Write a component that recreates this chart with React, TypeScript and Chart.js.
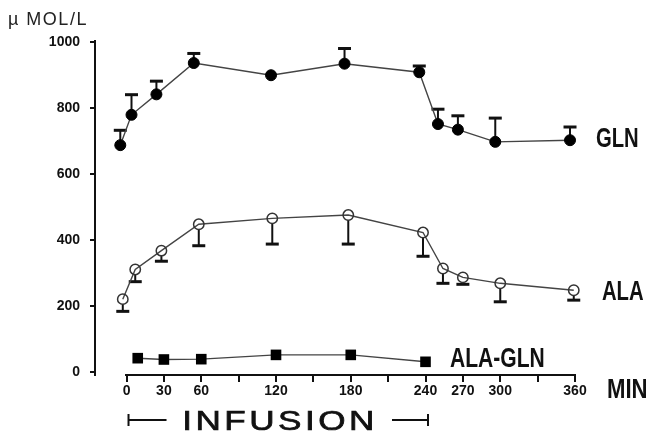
import React, { useEffect, useRef } from "react";
import { Chart, registerables } from "chart.js";
Chart.register(...registerables);

// ---- data (minutes, µmol/L) ----
const GLN_MIN = [-5, 4, 24, 54, 116, 175, 235, 250, 266, 296, 356];
const GLN = [688, 780, 842, 937, 900, 935, 909, 752, 735, 698, 703];
const GLN_ERR_UP = [45, 61, 40, 29, 0, 46, 19, 45, 42, 72, 40];

const ALA_MIN = [-3, 7, 28, 58, 117, 178, 238, 254, 270, 300, 359];
const ALA = [221, 311, 368, 448, 466, 476, 423, 314, 287, 269, 248];
const ALA_ERR_DOWN = [37, 37, 32, 65, 78, 88, 72, 45, 21, 56, 30];

const ALAGLN_MIN = [9, 30, 60, 120, 180, 240];
const ALAGLN = [42, 38, 39, 52, 52, 31];

const X_TICKS = [0, 30, 60, 90, 120, 150, 180, 210, 240, 270, 300, 330, 360];
const X_LABELS = [0, 30, 60, 120, 180, 240, 270, 300, 360];
const Y_TICKS = [0, 200, 400, 600, 800, 1000];
const INFUSION = [0, 240];

const FONT = "'Liberation Sans', Arial, Helvetica, sans-serif";
const INK = "#111";

function drawScaled(ctx: CanvasRenderingContext2D, text: string, x: number, y: number, font: string, sx: number, color = INK) {
  ctx.save();
  ctx.font = font;
  ctx.fillStyle = color;
  ctx.textAlign = "left";
  ctx.textBaseline = "alphabetic";
  ctx.translate(x, y);
  ctx.scale(sx, 1);
  ctx.fillText(text, 0, 0);
  ctx.restore();
}

const errorBarPlugin = {
  id: "errorBars",
  beforeDatasetsDraw(chart: any) {
    const ctx: CanvasRenderingContext2D = chart.ctx;
    const xs = chart.scales.x;
    const ys = chart.scales.y;
    ctx.save();
    ctx.strokeStyle = INK;
    const draw = (mins: number[], vals: number[], errs: number[], dir: number, r: number) => {
      mins.forEach((m, i) => {
        const e = errs[i];
        if (!e) return;
        const x = xs.getPixelForValue(m);
        const y0 = ys.getPixelForValue(vals[i]);
        const y1 = ys.getPixelForValue(vals[i] + dir * e);
        ctx.lineWidth = 2;
        ctx.beginPath();
        ctx.moveTo(x, y0 - dir * r);
        ctx.lineTo(x, y1);
        ctx.stroke();
        ctx.lineWidth = 3;
        ctx.beginPath();
        ctx.moveTo(x - 6.5, y1);
        ctx.lineTo(x + 6.5, y1);
        ctx.stroke();
      });
    };
    draw(GLN_MIN, GLN, GLN_ERR_UP, 1, 5);
    draw(ALA_MIN, ALA, ALA_ERR_DOWN, -1, 5);
    ctx.restore();
  },
};

const annotationsPlugin = {
  id: "annotations",
  afterDraw(chart: any) {
    const ctx: CanvasRenderingContext2D = chart.ctx;
    const xs = chart.scales.x;
    const ys = chart.scales.y;
    const axisY = ys.getPixelForValue(ys.min);
    // x axis line from 0 to 360
    ctx.save();
    ctx.strokeStyle = INK;
    ctx.lineWidth = 2;
    ctx.beginPath();
    ctx.moveTo(xs.getPixelForValue(X_TICKS[0]) - 1.5, axisY);
    ctx.lineTo(xs.getPixelForValue(X_TICKS[X_TICKS.length - 1]) + 1, axisY);
    ctx.stroke();
    ctx.restore();

    // unit label
    ctx.save();
    ctx.font = `18px ${FONT}`;
    (ctx as any).letterSpacing = "1.5px";
    ctx.fillStyle = "#222";
    ctx.textBaseline = "alphabetic";
    ctx.fillText("µ MOL/L", 8, 25);
    ctx.restore();

    const lab = `bold 27px ${FONT}`;
    drawScaled(ctx, "GLN", 596, 147, lab, 0.75);
    drawScaled(ctx, "ALA", 602, 300, lab, 0.75);
    drawScaled(ctx, "ALA-GLN", 450, 367, lab, 0.78);
    drawScaled(ctx, "MIN", 607, 398, lab, 0.82);

    // infusion bracket
    const x0 = xs.getPixelForValue(INFUSION[0]) + 2;
    const x1 = xs.getPixelForValue(INFUSION[1]) + 2.5;
    const yb = 420;
    ctx.save();
    ctx.strokeStyle = INK;
    ctx.lineWidth = 2;
    ctx.beginPath();
    ctx.moveTo(x0, yb - 6);
    ctx.lineTo(x0, yb + 6);
    ctx.moveTo(x0, yb);
    ctx.lineTo(x0 + 38, yb);
    ctx.moveTo(x1, yb - 6);
    ctx.lineTo(x1, yb + 6);
    ctx.moveTo(x1, yb);
    ctx.lineTo(x1 - 36, yb);
    ctx.stroke();

    const word = "INFUSION";
    const sx = 1.3;
    const total = 192;
    ctx.font = `27px ${FONT}`;
    const w = ctx.measureText(word).width;
    const sp = (total - w * sx) / (word.length - 1);
    let cx = (x0 + x1) / 2 - total / 2;
    ctx.fillStyle = INK;
    ctx.strokeStyle = INK;
    ctx.lineWidth = 0.7;
    ctx.textBaseline = "alphabetic";
    for (const ch of word) {
      const cw = ctx.measureText(ch).width;
      ctx.save();
      ctx.translate(cx, 430);
      ctx.scale(sx, 1);
      ctx.fillText(ch, 0, 0);
      ctx.strokeText(ch, 0, 0);
      ctx.restore();
      cx += cw * sx + sp;
    }
    ctx.restore();
  },
};

export default function App() {
  const ref = useRef<HTMLCanvasElement | null>(null);
  useEffect(() => {
    document.body.style.margin = "0";
    if (!ref.current) return;
    const chart = new Chart(ref.current, {
      type: "line",
      data: {
        datasets: [
          {
            label: "GLN",
            data: GLN_MIN.map((m, i) => ({ x: m, y: GLN[i] })),
            borderColor: "#444",
            borderWidth: 1.4,
            pointStyle: "circle",
            pointRadius: 5.5,
            pointBorderWidth: 1,
            pointBackgroundColor: "#000",
            pointBorderColor: "#000",
            tension: 0,
            clip: false,
          },
          {
            label: "ALA",
            data: ALA_MIN.map((m, i) => ({ x: m, y: ALA[i] })),
            borderColor: "#444",
            borderWidth: 1.4,
            pointStyle: "circle",
            pointRadius: 5.2,
            pointBorderWidth: 1.5,
            pointBackgroundColor: "rgba(0,0,0,0)",
            pointBorderColor: "#333",
            tension: 0,
            clip: false,
          },
          {
            label: "ALA-GLN",
            data: ALAGLN_MIN.map((m, i) => ({ x: m, y: ALAGLN[i] })),
            borderColor: "#444",
            borderWidth: 1.4,
            pointStyle: "rect",
            pointRadius: 7.5,
            pointBorderWidth: 0,
            pointBackgroundColor: "#000",
            pointBorderColor: "#000",
            tension: 0,
            clip: false,
          },
        ],
      },
      options: {
        animation: false,
        responsive: false,
        devicePixelRatio: 1,
        layout: { padding: { top: 40.6, right: 76, bottom: 0, left: 0 } },
        plugins: { legend: { display: false }, tooltip: { enabled: false } },
        scales: {
          x: {
            type: "linear",
            min: -25.3,
            max: 360,
            border: { display: false },
            grid: { drawOnChartArea: false, drawTicks: true, tickLength: 7, lineWidth: 2, color: INK },
            afterBuildTicks: (axis: any) => {
              axis.ticks = X_TICKS.map((v) => ({ value: v }));
            },
            afterFit: (axis: any) => {
              axis.height = 57;
            },
            ticks: {
              autoSkip: false,
              maxRotation: 0,
              padding: 1,
              color: INK,
              font: { family: FONT, size: 14, weight: "bold" },
              callback: (v: any) => (X_LABELS.includes(Number(v)) ? String(v) : ""),
            },
          },
          y: {
            type: "linear",
            min: -9,
            max: 1005,
            border: { display: true, color: INK, width: 2 },
            grid: { drawOnChartArea: false, drawTicks: true, tickLength: 5, lineWidth: 2, color: INK },
            afterBuildTicks: (axis: any) => {
              axis.ticks = Y_TICKS.map((v) => ({ value: v }));
            },
            afterFit: (axis: any) => {
              axis.width = 95;
            },
            ticks: {
              padding: 10,
              color: INK,
              font: { family: FONT, size: 14, weight: "bold" },
              callback: (v: any) => String(v),
            },
          },
        },
      },
      plugins: [errorBarPlugin, annotationsPlugin],
    } as any);
    return () => chart.destroy();
  }, []);
  return (
    <div style={{ position: "absolute", left: 0, top: 0, width: 651, height: 432, background: "#fff" }}>
      <canvas ref={ref} width={651} height={432} style={{ width: 651, height: 432, display: "block" }} />
    </div>
  );
}
